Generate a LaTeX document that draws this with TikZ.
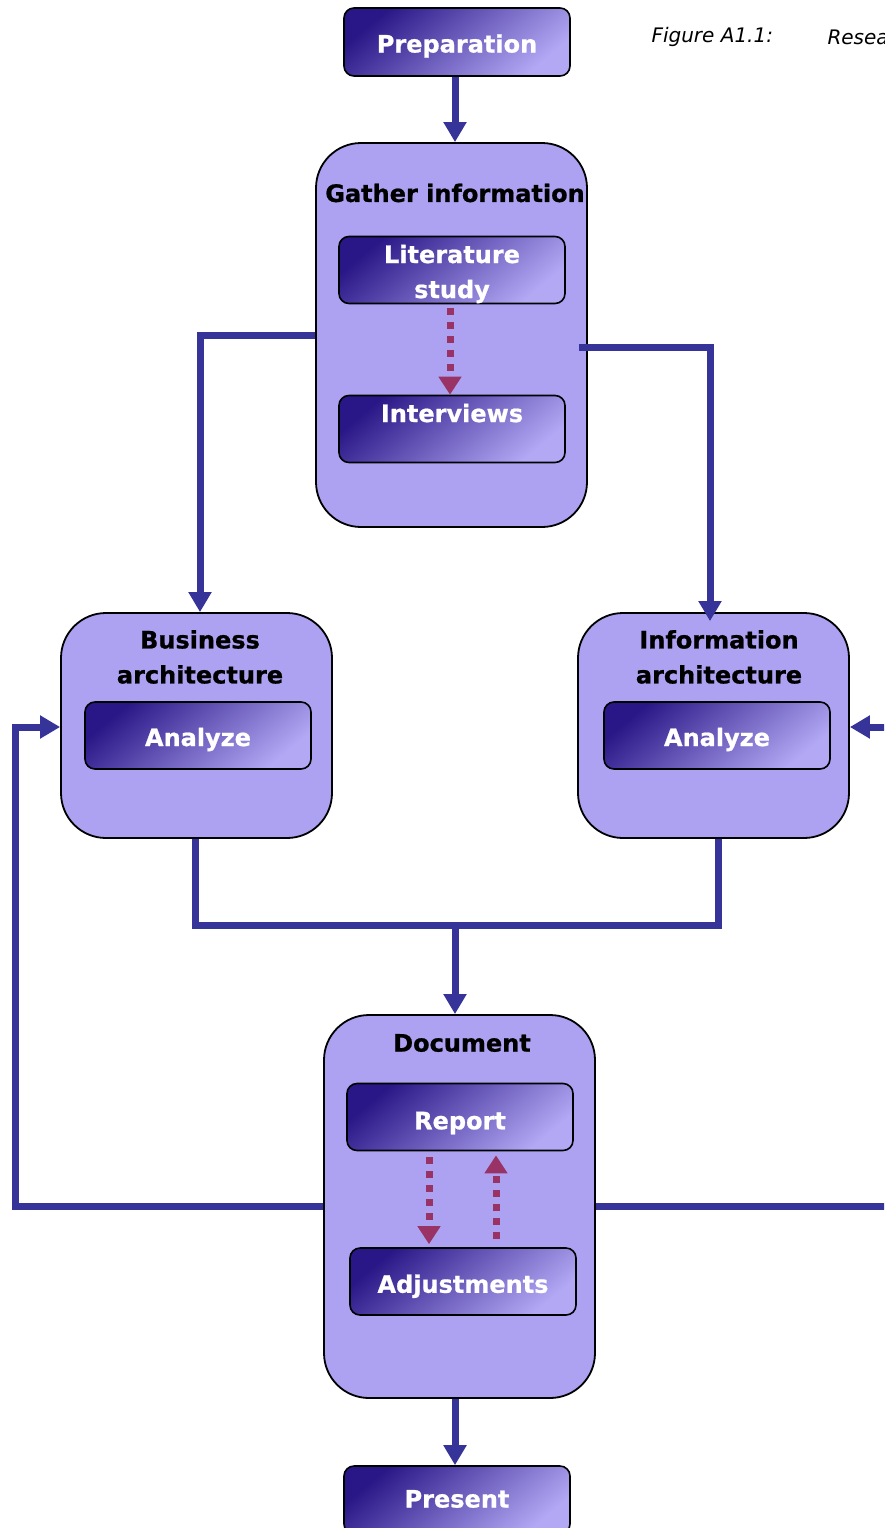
\documentclass[tikz,border=0pt]{standalone}
\usepackage{fontspec}
\setmainfont{DejaVu Sans}[BoldFeatures={FakeBold=0.8}]
\usepackage{tikz}
\usetikzlibrary{arrows.meta}
\usepackage{xcolor}

\definecolor{flowblue}{HTML}{363499}
\definecolor{groupfill}{HTML}{ADA2F2}
\definecolor{taskdark}{HTML}{2A1787}
\definecolor{tasklight}{HTML}{B2A8F4}
\definecolor{linkred}{HTML}{993366}

\begin{document}
\begin{tikzpicture}[
    x=1pt, y=-1pt,
    group/.style = {
      shape=rectangle,
      rounded corners=45pt,
      draw=black,
      line width=1.8pt,
      fill=groupfill,
      minimum width=271pt,
      inner sep=0pt
    },
    task/.style = {
      shape=rectangle,
      rounded corners=10pt,
      draw=black,
      line width=1.6pt,
      top color=taskdark,
      bottom color=tasklight,
      shading angle=40,
      text=white,
      align=center,
      font=\bfseries\fontsize{24}{35}\selectfont,
      text height=25pt,
      text depth=4pt,
      minimum width=226pt,
      minimum height=67pt
    },
    title/.style = {
      align=center,
      font=\bfseries\fontsize{24}{35}\selectfont
    },
    flow/.style = {
      draw=flowblue,
      line width=7pt,
      -{Triangle[length=20pt,width=22pt]}
    },
    flowline/.style = {
      draw=flowblue,
      line width=7pt
    },
    link/.style = {
      draw=linkred,
      line width=7pt,
      dash pattern=on 7pt off 7pt,
      -{Triangle[length=18pt,width=22pt]}
    }
  ]

    \useasboundingbox (0,0) rectangle (884,1528);
    \clip (0,0) rectangle (884,1528);

    % Caption
    \node[anchor=west, font=\itshape\fontsize{20}{24}\selectfont] (figlabel) at (648,37) {Figure A1.1:};
    \node[anchor=west, font=\itshape\fontsize{20}{24}\selectfont] (figtitle) at (824,37) {Resea};

    % Top node
    \node[task, minimum height=68pt] (prep) at (457,42) {Preparation};

    % Gather information with its tasks
    \node[group, minimum height=384pt] (gather) at (451.5,335) {};
    \node[title] (gathertitle) at (455,193) {Gather information};
    \node[task, text height=58pt, text depth=2pt] (lit) at (452,270) {Literature\\study};
    \node[task, text height=22.5pt, text depth=36.5pt] (interviews) at (452,429) {Interviews};

    % Architectures
    \node[group, minimum height=225pt] (business) at (196.5,725.5) {};
    \node[title] (businesstitle) at (200,657) {Business\\architecture};
    \node[task] (analyzeb) at (198,735.5) {Analyze};

    \node[group, minimum height=225pt] (info) at (713.5,725.5) {};
    \node[title] (infotitle) at (719,657) {Information\\architecture};
    \node[task] (analyzei) at (717,735.5) {Analyze};

    % Document with its tasks
    \node[group, minimum height=383pt] (doc) at (459.5,1206.5) {};
    \node[title] (doctitle) at (462,1043) {Document};
    \node[task, text height=28.5pt] (report) at (460,1117) {Report};
    \node[task, text height=26.5pt] (adjust) at (463,1281.5) {Adjustments};

    % Bottom node
    \node[task, minimum height=68pt, text height=19pt] (present) at (457,1500) {Present};

    % Helper points
    \coordinate (join) at (455,925);
    \coordinate (loopl) at (15,1206.5);
    \coordinate (loopr) at (905,1206.5);

    % Arrows
    \draw[flow] ([xshift=-2pt]prep.south) -- ([xshift=-2pt]prep.south |- gather.north);
    \draw[flow] (gather.west) -| ([xshift=3.5pt]business.north);
    \draw[flow] ([xshift=-9pt,yshift=-12pt]gather.east) -| ([xshift=-3.5pt,yshift=-9pt]info.north);
    \draw[flowline] ([xshift=-1.5pt]business.south) |- (join) -| ([xshift=4.5pt]info.south);
    \draw[flow] (join) -- (join |- doc.north);
    \draw[flow] (doc.west) -- (loopl) |- ([yshift=-1.5pt]business.west);
    \draw[flow] (doc.east) -- (loopr) |- ([yshift=-1.5pt]info.east);
    \draw[flow] (join |- doc.south) -- (join |- present.north);

    % Dotted links
    \draw[link, shorten <=4pt] ([xshift=-2pt]lit.south) -- ([xshift=-2pt]interviews.north);
    \draw[link, shorten <=6pt, shorten >=3pt] ([xshift=-31pt]report.south) -- ([xshift=-34pt]adjust.north);
    \draw[link, shorten <=8pt, shorten >=4pt] ([xshift=33pt]adjust.north) -- ([xshift=36pt]report.south);

  \end{tikzpicture}
\end{document}
